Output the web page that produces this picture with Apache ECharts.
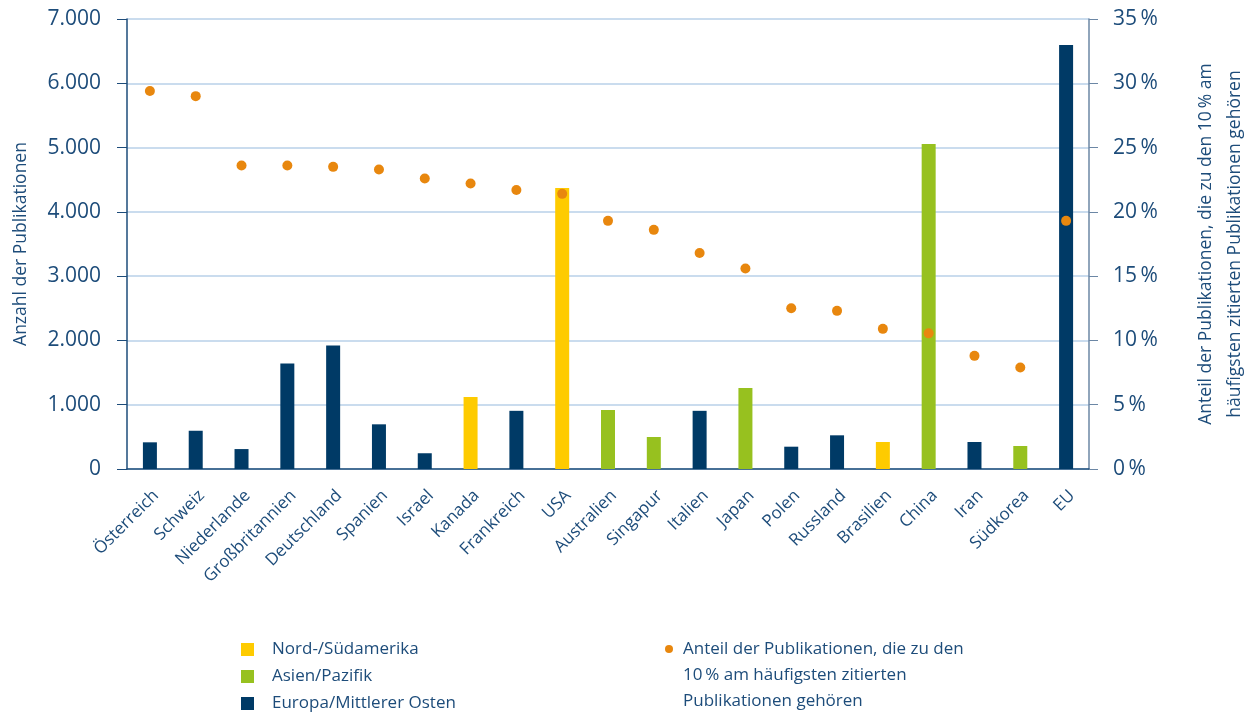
<!DOCTYPE html>
<html>
<head>
<meta charset="utf-8">
<script src="https://cdn.jsdelivr.net/npm/echarts@6/dist/echarts.min.js"></script>
<style>
  html, body { margin: 0; padding: 0; background: #fff; }
  #chart-box { width: 1247px; height: 715px; }
</style>
</head>
<body>
<div id="chart-box"></div>
<script>
// Länder und Werte
var laender = ['Österreich', 'Schweiz', 'Niederlande', 'Großbritannien', 'Deutschland', 'Spanien', 'Israel',
  'Kanada', 'Frankreich', 'USA', 'Australien', 'Singapur', 'Italien', 'Japan', 'Polen', 'Russland',
  'Brasilien', 'China', 'Iran', 'Südkorea', 'EU'];
var region = ['EU', 'EU', 'EU', 'EU', 'EU', 'EU', 'EU', 'AM', 'EU', 'AM', 'AP', 'AP', 'EU', 'AP', 'EU', 'EU',
  'AM', 'AP', 'EU', 'AP', 'EU'];
var anzahl = [415, 595, 310, 1640, 1920, 695, 245, 1120, 905, 4370, 918, 498, 905, 1260, 347, 524,
  420, 5055, 420, 358, 6595];
var anteil = [29.4, 29.0, 23.6, 23.6, 23.5, 23.3, 22.6, 22.2, 21.7, 21.4, 19.3, 18.6, 16.8, 15.6, 12.5, 12.3,
  10.9, 10.55, 8.8, 7.9, 19.3];

var regionNamen = { AM: 'Nord-/Südamerika', AP: 'Asien/Pazifik', EU: 'Europa/Mittlerer Osten' };
var regionFarben = { AM: '#fecb00', AP: '#97c11f', EU: '#003a66' };
var anteilName = 'Anteil der Publikationen, die zu den 10\u2009% am häufigsten zitierten Publikationen gehören';

var textFarbe = '#1d4c7a';

function tausender(v) {
  return String(v).replace(/\B(?=(\d{3})+(?!\d))/g, '.');
}

var myChart = echarts.init(document.getElementById('chart-box'));

var barSeries = ['AM', 'AP', 'EU'].map(function (r) {
  return {
    name: regionNamen[r],
    type: 'bar',
    stack: 'alle',
    barWidth: 14,
    itemStyle: { color: regionFarben[r] },
    data: anzahl.map(function (v, i) { return region[i] === r ? v : '-'; })
  };
});

var option = {
  textStyle: { fontFamily: 'Open Sans' },
  grid: { left: 127, right: 158, top: 19, bottom: 246, outerBoundsMode: 'none' },
  legend: [{
    orient: 'vertical',
    left: 241,
    top: 641,
    padding: 0,
    icon: 'rect',
    itemWidth: 13,
    itemHeight: 13,
    itemGap: 10,
    selectedMode: false,
    data: [regionNamen.AM, regionNamen.AP, regionNamen.EU],
    textStyle: { color: textFarbe, fontSize: 17, lineHeight: 16, padding: [0, 0, 0, 13] }
  }, {
    orient: 'vertical',
    left: 660,
    top: 579,
    icon: 'circle',
    itemWidth: 8,
    itemHeight: 8,
    selectedMode: false,
    data: [anteilName],
    // zwei Leerzeilen vorne, damit der Punkt auf Höhe der ersten Zeile sitzt
    formatter: function () {
      return '\n\nAnteil der Publikationen, die zu den\n10\u2009% am häufigsten zitierten\nPublikationen gehören';
    },
    textStyle: { color: textFarbe, fontSize: 17, lineHeight: 26, padding: [0, 0, 0, 5] }
  }],
  xAxis: {
    type: 'category',
    data: laender,
    axisLine: { lineStyle: { color: '#1d4c7a', width: 1.5 } },
    axisTick: { show: false },
    axisLabel: { rotate: 45, color: textFarbe, fontSize: 17, margin: 18, verticalAlign: 'top', interval: 0 }
  },
  yAxis: [{
    type: 'value',
    min: 0,
    max: 7000,
    interval: 1000,
    name: 'Anzahl der Publikationen',
    nameLocation: 'middle',
    nameGap: 97,
    nameTextStyle: { color: textFarbe, fontSize: 17.5 },
    axisLine: { show: true, lineStyle: { color: '#1d4c7a', width: 1.5 } },
    axisTick: { show: true, length: 10, lineStyle: { color: '#1d4c7a' } },
    axisLabel: { color: textFarbe, fontSize: 21, margin: 26, formatter: tausender },
    splitLine: { lineStyle: { color: '#b9d1e8', width: 1.5 } }
  }, {
    type: 'value',
    min: 0,
    max: 35,
    interval: 5,
    position: 'right',
    name: 'Anteil der Publikationen, die zu den 10\u2009% am\nhäufigsten zitierten Publikationen gehören',
    nameLocation: 'middle',
    nameGap: 103,
    nameRotate: 90,
    nameTextStyle: { color: textFarbe, fontSize: 17.5, lineHeight: 29 },
    axisLine: { show: true, lineStyle: { color: '#6b87a5', width: 1.5 } },
    axisTick: { show: true, length: 9, lineStyle: { color: '#6b87a5' } },
    axisLabel: { color: textFarbe, fontSize: 21, margin: 24, formatter: function (v) { return v + '\u2009%'; } },
    splitLine: { show: false }
  }],
  series: barSeries.concat([{
    name: anteilName,
    type: 'scatter',
    yAxisIndex: 1,
    symbolSize: 10,
    itemStyle: { color: '#e8870e', opacity: 1 },
    z: 5,
    data: anteil
  }])
};

myChart.setOption(option);
</script>
</body>
</html>
